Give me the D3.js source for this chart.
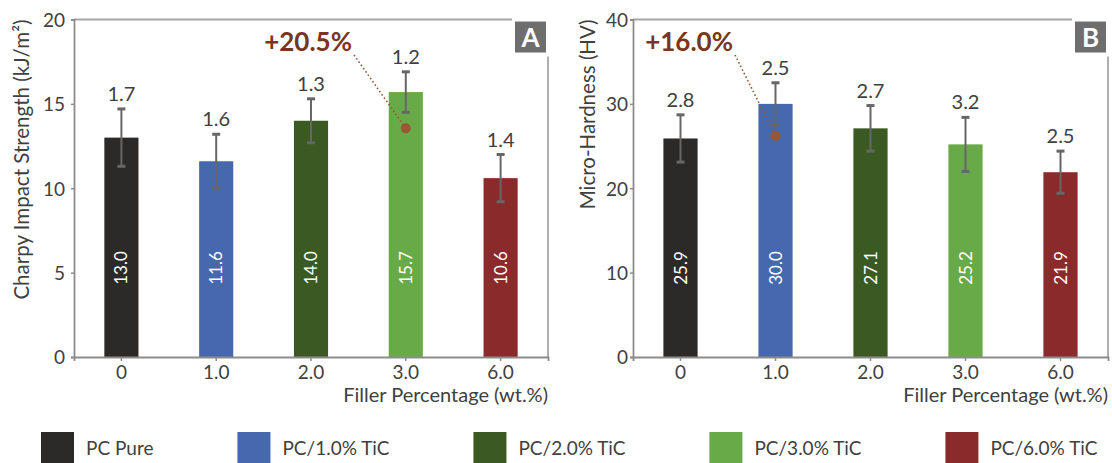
<!DOCTYPE html>
<html><head><meta charset="utf-8">
<script src="https://cdn.jsdelivr.net/npm/d3@7"></script>
<style>
html,body{margin:0;padding:0;background:#fff;}
svg{display:block;}
text{font-family:Lato,"Open Sans",sans-serif;}
</style></head>
<body>
<svg id="chart" width="1112" height="463"></svg>
<script>
// ---- data ----
const categories = ["0", "1.0", "2.0", "3.0", "6.0"];
const seriesNames = ["PC Pure", "PC/1.0% TiC", "PC/2.0% TiC", "PC/3.0% TiC", "PC/6.0% TiC"];
const seriesColors = ["#2b2a28", "#4668ad", "#3a5a22", "#69aa48", "#8a2a2b"];
const impactMean = [13.0, 11.6, 14.0, 15.7, 10.6];
const impactSD = [1.7, 1.6, 1.3, 1.2, 1.4];
const hardnessMean = [25.9, 30.0, 27.1, 25.2, 21.9];
const hardnessSD = [2.8, 2.5, 2.7, 3.2, 2.5];
const impactTicks = [0, 5, 10, 15, 20];
const hardnessTicks = [0, 10, 20, 30, 40];
const impactNote = {text: "+20.5%", category: "3.0", value: 13.55};
const hardnessNote = {text: "+16.0%", category: "1.0", value: 26.2};

const svg = d3.select("#chart");
const axisColor = "#8c8c8c";
const textColor = "#404040";
const noteColor = "#7a3520";
const dotColor = "#985833";

function panel(cfg) {
  const g = svg.append("g");
  const x = d3.scaleBand().domain(categories).range([cfg.left, cfg.right])
    .paddingInner(0.64).paddingOuter(0.32);
  const y = d3.scaleLinear().domain([0, d3.max(cfg.ticks)]).range([cfg.bottom, cfg.top]);

  // frame: top + right (broken by label box)
  g.append("line").attr("x1", cfg.left).attr("x2", cfg.right - 36)
    .attr("y1", cfg.top).attr("y2", cfg.top)
    .attr("stroke", "#a6a6a6").attr("stroke-width", 1.8);
  g.append("line").attr("x1", cfg.right).attr("x2", cfg.right)
    .attr("y1", cfg.top + 37).attr("y2", cfg.bottom)
    .attr("stroke", "#a6a6a6").attr("stroke-width", 1.8);

  // bars
  const data = categories.map((c, i) => ({c, i, m: cfg.mean[i], sd: cfg.sd[i]}));
  g.selectAll("rect.bar").data(data).join("rect")
    .attr("x", d => x(d.c)).attr("width", x.bandwidth())
    .attr("y", d => y(d.m)).attr("height", d => y(0) - y(d.m))
    .attr("fill", d => seriesColors[d.i]);

  // axes
  const yAxis = d3.axisLeft(y).tickValues(cfg.ticks).tickSize(3).tickPadding(cfg.tickPad).tickFormat(d3.format("d"));
  const ya = g.append("g").attr("transform", `translate(${cfg.left},0)`).call(yAxis);
  const xAxis = d3.axisBottom(x).tickSize(4).tickPadding(4);
  const xa = g.append("g").attr("transform", `translate(0,${cfg.bottom})`).call(xAxis);
  [ya, xa].forEach(a => {
    a.select(".domain").attr("stroke", axisColor).attr("stroke-width", 1.8);
    a.selectAll(".tick line").attr("stroke", axisColor).attr("stroke-width", 1.5);
    a.selectAll(".tick text").attr("fill", textColor).attr("font-size", 19)
      .style("font-family", "Lato, 'Open Sans', sans-serif");
  });
  ya.selectAll(".tick text").attr("dy", "0.36em");
  xa.selectAll(".tick text").attr("dy", "0.74em");

  // error bars
  const cx = d => x(d.c) + x.bandwidth() / 2;
  const eb = g.selectAll("g.err").data(data).join("g").attr("stroke", "#666").attr("stroke-width", 2);
  eb.append("line").attr("x1", cx).attr("x2", cx).attr("y1", d => y(d.m - d.sd)).attr("y2", d => y(d.m + d.sd));
  eb.append("line").attr("x1", d => cx(d) - 4).attr("x2", d => cx(d) + 4)
    .attr("y1", d => y(d.m + d.sd)).attr("y2", d => y(d.m + d.sd)).attr("stroke-width", 3);
  eb.append("line").attr("x1", d => cx(d) - 4).attr("x2", d => cx(d) + 4)
    .attr("y1", d => y(d.m - d.sd)).attr("y2", d => y(d.m - d.sd)).attr("stroke-width", 3);

  // SD labels
  g.selectAll("text.sd").data(data).join("text")
    .attr("x", cx).attr("y", d => y(d.m + d.sd) - 8)
    .attr("text-anchor", "middle").attr("font-size", 20).attr("fill", textColor)
    .text(d => d3.format(".1f")(d.sd));

  // value labels inside bars
  g.selectAll("text.val").data(data).join("text")
    .attr("transform", d => `translate(${cx(d) + 6},${cfg.bottom - 89}) rotate(-90)`)
    .attr("text-anchor", "middle").attr("font-size", 17).attr("fill", "#fff")
    .text(d => d3.format(".1f")(d.m));

  // axis titles
  g.append("text").attr("transform", `translate(${cfg.titleX},${cfg.top}) rotate(-90)`)
    .attr("text-anchor", "end").attr("font-size", 20.5).attr("fill", textColor).text(cfg.yTitle);
  g.append("text").attr("x", cfg.right).attr("y", cfg.bottom + 45)
    .attr("text-anchor", "end").attr("font-size", 20).attr("fill", textColor).text("Filler Percentage (wt.%)");

  // panel letter
  g.append("rect").attr("x", cfg.right - 33).attr("y", cfg.top + 2).attr("width", 31).attr("height", 31)
    .attr("fill", "#6e6e6e");
  g.append("text").attr("x", cfg.right - 17.5).attr("y", cfg.top + 27.5).attr("text-anchor", "middle")
    .attr("font-size", 26).attr("font-weight", "bold").attr("fill", "#fff").text(cfg.letter);

  // annotation
  const n = cfg.note;
  const dx = x(n.category) + x.bandwidth() / 2, dy = y(n.value);
  g.append("line").attr("x1", cfg.noteX + 2).attr("y1", cfg.noteY + 4).attr("x2", dx).attr("y2", dy)
    .attr("stroke", dotColor).attr("stroke-width", 1.6).attr("stroke-dasharray", "1.6,2.4");
  g.append("circle").attr("cx", dx).attr("cy", dy).attr("r", 5).attr("fill", dotColor);
  g.append("text").attr("x", cfg.noteX).attr("y", cfg.noteY).attr("text-anchor", "end")
    .attr("font-size", 26).attr("font-weight", "bold").attr("fill", noteColor).text(n.text);
}

panel({left: 74, right: 548, top: 19.5, bottom: 357, ticks: impactTicks, mean: impactMean, sd: impactSD,
  yTitle: "Charpy Impact Strength (kJ/m²)", titleX: 29, letter: "A", note: impactNote, noteX: 352, noteY: 51, tickPad: 6});
panel({left: 633, right: 1108, top: 19.5, bottom: 357, ticks: hardnessTicks, mean: hardnessMean, sd: hardnessSD,
  yTitle: "Micro-Hardness (HV)", titleX: 595, letter: "B", note: hardnessNote, noteX: 733, noteY: 51, tickPad: 2});

// legend
const lg = svg.append("g");
let lx = 41;
seriesNames.forEach((name, i) => {
  lg.append("rect").attr("x", lx).attr("y", 432).attr("width", 33).attr("height", 34).attr("fill", seriesColors[i]);
  const t = lg.append("text").attr("x", lx + 45).attr("y", 455).attr("font-size", 19).attr("fill", textColor).text(name);
  lx += 45 + t.node().getComputedTextLength() + 84;
});
</script>
</body></html>
